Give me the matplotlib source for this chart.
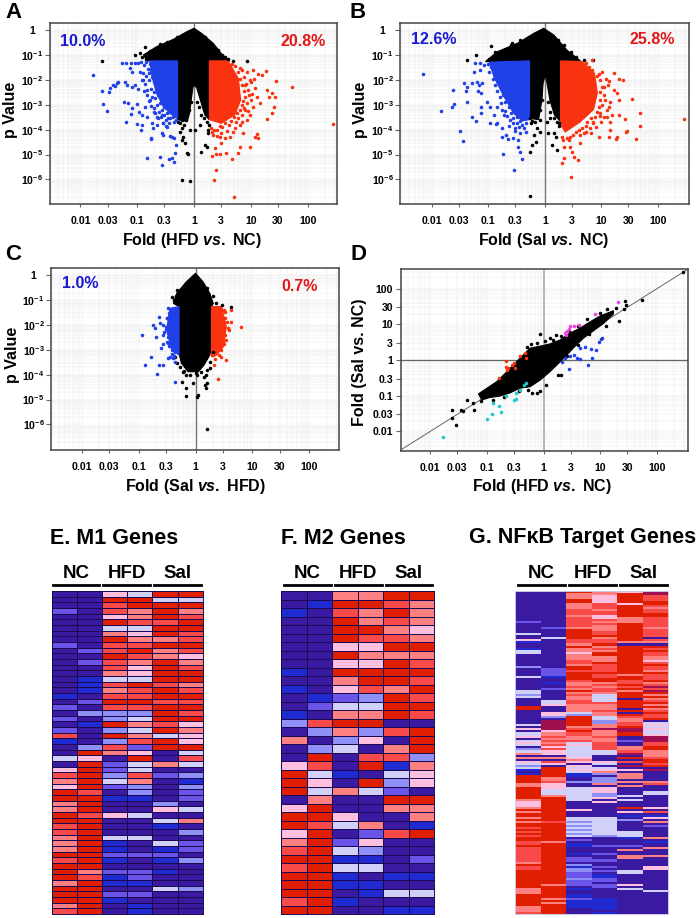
"""Volcano plots, fold-fold scatter and three expression heat maps."""
import numpy as np
import matplotlib
matplotlib.use("Agg")
import matplotlib.pyplot as plt
from matplotlib.colors import ListedColormap
from matplotlib.lines import Line2D
from matplotlib.ticker import FixedLocator, LogLocator, NullFormatter

plt.rcParams["font.family"] = "Liberation Sans"
plt.rcParams["font.weight"] = "bold"
plt.rcParams["mathtext.fontset"] = "custom"
plt.rcParams["mathtext.rm"] = "Liberation Sans:bold"
plt.rcParams["mathtext.bf"] = "Liberation Sans:bold"
plt.rcParams["mathtext.it"] = "Liberation Sans:italic:bold"
plt.rcParams["mathtext.default"] = "bf"

W, H = 700, 918

fold_ticks = [0.01, 0.03, 0.1, 0.3, 1, 3, 10, 30, 100]
fold_tick_labels = ["0.01", "0.03", "0.1", "0.3", "1", "3", "10", "30", "100"]
p_ticks = [1, 1e-1, 1e-2, 1e-3, 1e-4, 1e-5, 1e-6]
p_tick_labels = ["1", "10$^{-1}$", "10$^{-2}$", "10$^{-3}$", "10$^{-4}$", "10$^{-5}$", "10$^{-6}$"]

# everything below is log10(fold) / log10(p)
# dense cores are outlines of the solid areas, single dots listed on their own

# ---- panel A ----
a_core_black_x = [-.29, -.83, -.89, -.66, -.36, -.13, 0, .13, .34, .50, .63, .27, .27, .19, .11, .05, .01, -.02, -.05, -.08, -.12, -.29]
a_core_black_y = [-1.24, -1.24, -1.0, -.67, -.37, -.07, .07, -.13, -.54, -1.0, -1.24, -1.24, -3.61, -3.41, -2.81, -2.34, -2.21, -2.30, -2.81, -3.35, -3.68, -3.6]
a_core_blue_x = [-.29, -.78, -.74, -.66, -.54, -.40, -.29]
a_core_blue_y = [-1.24, -1.24, -1.87, -2.54, -3.08, -3.4, -3.5]
a_core_red_x = [.27, .60, .78, .82, .72, .48, .27]
a_core_red_y = [-1.24, -1.24, -1.95, -2.81, -3.4, -3.75, -3.6]
a_blue_x = [-1.77, -1.62, -1.60, -1.54, -1.48, -1.49, -1.42, -1.36, -1.33, -1.39, -1.24, -1.16, -1.20, -1.27, -1.20, -1.11, -1.04, -1.13, -1.10, -.98, -.95, -1.21, -1.18, -1.10, -1.04, -.98, -1.10, -1.11, -1.01, -.96, -.92, -1.01, -.92, -.94, -.76, -.76, -.82, -.60, -.56, -.44, -.38, -.36, -.33, -.32, -.57, -.54, -.42, -.38, -.35, -.86, -.83, -.74, -.72, -.66, -.54, -.48, -.45, -.89, -.83, -.77, -.70, -.65, -.57,
            -.93, -.88, -.85, -.81, -.78, -.90, -.84, -.79, -.75, -.92, -.86, -.80, -.74, -.70, -.88, -.82, -.76, -.71, -.66, -.79, -.74, -.68, -.63, -.75, -.70, -.65, -.60, -.56, -.68, -.62, -.57, -.52, -.63, -.58, -.53, -.47, -.42, -.55, -.49, -.43, -.37, -.32, -.50, -.44, -.36, -.31]
a_blue_y = [-1.81, -2.44, -2.99, -3.24, -2.34, -2.48, -2.21, -2.14, -2.07, -2.25, -2.88, -2.95, -3.68, -1.34, -1.34, -1.34, -1.34, -1.54, -1.67, -1.34, -1.67, -2.07, -2.21, -2.30, -2.21, -2.38, -3.15, -3.37, -2.97, -3.28, -3.41, -3.78, -3.82, -4.02, -4.32, -4.39, -5.15, -5.09, -5.42, -5.19, -5.13, -5.29, -4.95, -4.62, -4.15, -4.22, -4.26, -4.28, -4.32, -3.08, -3.48, -3.75, -3.95, -3.82, -3.75, -3.88, -3.55, -2.01, -2.41, -2.81, -3.28, -3.48, -3.41,
            -1.30, -1.42, -1.30, -1.55, -1.36, -1.72, -1.83, -1.72, -1.62, -2.0, -2.15, -2.02, -1.90, -2.10, -2.45, -2.60, -2.35, -2.48, -2.30, -2.85, -2.70, -2.75, -2.60, -3.05, -3.15, -3.0, -2.95, -2.85, -3.35, -3.30, -3.20, -3.10, -3.55, -3.48, -3.42, -3.35, -3.28, -3.72, -3.62, -3.55, -3.50, -3.45, -3.85, -3.72, -3.68, -3.62]
a_red_x = [2.45, 1.72, 1.44, 1.41, 1.43, 1.37, 1.28, 1.31, 1.29, 1.38, 1.26, 1.13, 1.19, 1.03, .93, .81, .99, 1.07, 1.10, 1.16, 1.04, .99, 1.13, 1.07, 1.10, .93, .87, .99, .80, .77, .66, .56, .46, .38, .32, .37, .47, .45, .63, .55, .69, .38, .35, .71, .31, 1.01, .96, .90, .90, .81, .72,
           .66, .72, .78, .84, .80, .88, .85, .92, .88, .95, .90, .86, .93, .84, .88, .80, .84, .76, .78, .70, .73, .65, .62, .55, .50, .45, .40, .35, .30, .58, .48, .40, .33, .85, .95, 1.02, 1.0, 1.05]
a_red_y = [-3.78, -2.29, -2.03, -3.08, -2.68, -2.54, -2.41, -2.68, -3.59, -3.35, -1.63, -1.77, -1.81, -1.61, -1.67, -1.54, -2.01, -2.34, -2.68, -2.95, -3.08, -3.41, -4.35, -4.28, -4.18, -3.61, -4.15, -4.71, -4.69, -4.95, -5.19, -4.95, -4.98, -4.98, -5.06, -4.75, -4.55, -4.31, -4.28, -4.35, -4.08, -5.62, -6.02, -6.69, -4.08, -2.81, -2.61, -2.21, -3.21, -3.82, -3.95,
           -1.35, -1.45, -1.7, -1.62, -1.95, -1.9, -2.2, -2.15, -2.45, -2.4, -2.7, -2.85, -2.95, -3.0, -3.15, -3.2, -3.4, -3.35, -3.55, -3.5, -3.7, -3.65, -3.82, -3.75, -3.9, -3.85, -4.0, -4.02, -3.95, -4.05, -4.15, -4.25, -4.2, -3.7, -3.25, -2.55, -2.1, -1.95]
a_black_x = [-1.62, .93, .69, -.87, -1.04, -.95, -.60, -.22, -.07, -.13, -.10, -.22, -.16, -.25, -.07, .13, .19, .22, .25, .25, .11, .02, -.22, -.19, .49,
             -.78, -.72, -.66, -.6, -.55, -.48, -.42, -.70, -.92, -.84, -.3, .2, .3, .42, .55, .6, -.28, -.25, -.18, -.22, .27, .22, .17, .12, .08, .05, -.05, -.09, -.14]
a_black_y = [-1.23, -1.24, -1.23, -.67, -1.0, -.94, -.56, -6.02, -6.05, -4.93, -4.98, -4.42, -4.52, -4.08, -4.02, -4.89, -4.62, -4.69, -4.15, -4.02, -3.82, -4.02, -3.95, -4.28, -1.0,
             -.85, -.9, -.75, -.7, -.65, -.5, -.55, -1.1, -1.1, -1.15, -.3, -.3, -.55, -.8, -1.1, -1.15, -3.7, -3.75, -3.8, -3.6, -3.8, -3.7, -3.55, -3.4, -3.1, -2.9, -2.9, -3.2, -3.6]

# ---- panel B ----
b_core_black_x = [-.27, -1.05, -.84, -.49, -.19, -.02, .16, .39, .63, .28, .28, .17, .09, .03, .01, -.03, -.05, -.08, -.11, -.27]
b_core_black_y = [-1.24, -1.27, -.87, -.54, -.13, .07, -.20, -.80, -1.24, -1.24, -3.68, -3.41, -2.81, -2.01, -1.81, -2.14, -2.8, -3.2, -3.6, -3.55]
b_core_blue_x = [-.27, -.98, -.90, -.72, -.55, -.40, -.27]
b_core_blue_y = [-1.24, -1.29, -1.88, -2.68, -3.35, -3.65, -3.6]
b_core_red_x = [.28, .66, .88, .93, .86, .62, .36, .28]
b_core_red_y = [-1.24, -1.27, -1.74, -2.54, -3.2, -3.7, -4.1, -3.8]
b_blue_x = [-2.15, -1.83, -1.64, -1.61, -1.62, -1.5, -1.44, -1.42, -1.38, -1.40, -1.38, -1.28, -1.21, -1.12, -1.12, -1.24, -1.25, -1.29, -1.19, -1.16, -1.11, -1.18, -1.12, -1.02, -.97, -.97, -.87, -.84, -.74, -.54, -.76, -.68, -.65, -.56, -.48, -.43, -.48, -.41, -.52, -.43, -.34, -.75, -.64, -.9, -.84, -1.15, -1.08, -1.15,
            -1.0, -.95, -.98, -.90, -.85, -.92, -.85, -.80, -.88, -.82, -.76, -.84, -.78, -.72, -.80, -.74, -.68, -.78, -.70, -.64, -.76, -.70, -.64, -.58, -.72, -.66, -.60, -.54, -.62, -.56, -.50, -.57, -.50, -.44, -.40, -.34, -.36, -.46, -.52]
b_blue_y = [-1.77, -3.24, -3.08, -2.99, -2.41, -4.06, -4.44, -2.14, -2.30, -2.43, -2.88, -3.48, -3.64, -3.35, -3.11, -1.31, -1.70, -2.12, -2.07, -2.21, -2.12, -2.46, -2.54, -2.88, -3.11, -3.75, -3.78, -3.72, -4.98, -5.62, -4.31, -4.22, -4.39, -4.35, -4.42, -4.89, -4.71, -5.19, -4.04, -4.15, -4.08, -3.95, -3.86, -3.41, -3.08, -1.34, -1.41, -1.61,
            -1.35, -1.5, -1.7, -1.65, -1.55, -1.95, -1.9, -1.8, -2.2, -2.12, -2.0, -2.45, -2.38, -2.25, -2.7, -2.6, -2.5, -2.95, -2.9, -2.78, -3.2, -3.25, -3.1, -3.0, -3.4, -3.45, -3.35, -3.25, -3.6, -3.55, -3.5, -3.75, -3.72, -3.65, -3.82, -3.72, -3.92, -3.9, -3.95]
b_red_x = [2.46, 1.68, 1.69, 1.62, 1.54, 1.46, 1.44, 1.41, 1.38, 1.31, 1.22, 1.13, 1.22, 1.28, 1.31, 1.19, 1.31, 1.16, 1.16, 1.28, 1.26, 1.13, .96, .84, .72, 1.01, 1.04, 1.07, 1.13, .98, 1.04, .86, .81, .63, .46, .58, .52, .48, .45, .34, .31, .34, .42, .69,
           .70, .78, .84, .92, .98, .95, 1.02, .98, 1.05, .97, 1.02, .95, .93, .98, .88, .82, .85, .75, .72, .65, .60, .55, .50, .45, .40, .33, .30, .62, .72, .80, .90, 1.0, 1.1, 1.1, 1.15, 1.12, 1.08]
b_red_y = [-3.56, -3.32, -3.86, -4.38, -2.76, -4.04, -4.11, -3.59, -2.01, -1.98, -1.74, -2.03, -2.41, -2.54, -2.81, -3.41, -3.41, -3.68, -4.02, -4.28, -4.39, -4.31, -4.31, -1.20, -1.34, -1.67, -2.28, -2.81, -3.08, -3.35, -3.48, -3.75, -4.15, -4.55, -5.89, -5.22, -5.09, -4.89, -4.69, -5.15, -5.35, -4.69, -4.42, -4.15,
           -1.40, -1.5, -1.62, -1.85, -2.0, -1.75, -2.3, -2.5, -2.6, -2.8, -3.0, -3.1, -3.3, -3.45, -3.5, -3.55, -3.7, -3.7, -3.85, -3.95, -4.0, -4.1, -4.2, -4.3, -4.35, -4.4, -4.3, -4.2, -4.1, -3.95, -3.9, -3.7, -3.5, -3.2, -2.9, -2.2, -1.95]
b_black_x = [-1.38, -1.21, -.95, -.88, -.58, -.27, .85, .69, -.27, -.22, -.16, -.25, -.14, -.08, -.19, .05, .16, .19, .13, .22, .10, .25, -.08, .04,
             -.98, -.90, -.80, -.74, -.66, -.60, -.52, -.44, .24, .34, .46, .56, -.26, -.22, -.18, .26, .22, .16, .10, .06, -.05, -.08, -.13]
b_black_y = [-1.20, -1.0, -.64, -.87, -.54, -6.67, -1.20, -1.20, -4.89, -4.62, -4.48, -3.75, -3.95, -4.08, -4.22, -4.15, -4.15, -4.28, -4.62, -4.82, -3.55, -3.75, -3.61, -3.68,
             -1.15, -1.05, -.95, -.85, -.80, -.62, -.60, -.40, -.4, -.6, -.9, -1.1, -3.55, -3.65, -3.7, -3.85, -3.7, -3.55, -3.3, -2.9, -2.8, -3.2, -3.5]

# ---- panel C ----
c_core_black_x = [0, .13, .25, .31, .28, .28, .25, .15, .05, -.13, -.25, -.29, -.29, -.39, -.33, -.16]
c_core_black_y = [.08, -.26, -.72, -1.13, -1.26, -2.87, -3.21, -3.61, -3.88, -3.88, -3.54, -3.14, -1.26, -1.13, -.72, -.26]
c_core_blue_x = [-.29, -.45, -.51, -.42, -.29]
c_core_blue_y = [-1.26, -1.33, -2.20, -3.01, -3.21]
c_core_red_x = [.28, .46, .54, .49, .37, .28]
c_core_red_y = [-1.26, -1.26, -2.07, -2.87, -3.21, -3.28]
c_blue_x = [-.94, -.70, -.88, -.78, -.64, -.58, -.67, -.36, -.48, -.64, -.74, -.71, -.63, -.57, -.52, -.57, -.57, -.6, -.48, -.39, -.48, -.36, -.42, -.36, -.51,
            -.47, -.50, -.46, -.52, -.55, -.48, -.50, -.46, -.42, -.38, -.45]
c_blue_y = [-2.40, -2.48, -3.61, -3.30, -3.61, -3.61, -3.97, -4.28, -1.33, -1.69, -2.0, -2.13, -1.93, -2.0, -2.09, -2.40, -2.77, -2.94, -2.74, -3.34, -3.34, -3.48, -3.01, -3.07, -1.73,
            -1.5, -1.7, -1.95, -2.15, -2.3, -2.5, -2.7, -2.85, -3.15, -3.25, -3.3]
c_red_x = [.80, .62, .62, .53, .44, .43, .32, .39, .30, .51, .57, .53, .49, .50, .52, .56, .58, .52, .5, .44, .38, .34, .42]
c_red_y = [-2.07, -1.87, -1.40, -3.41, -3.30, -2.94, -3.61, -4.19, -3.21, -1.46, -2.13, -2.60, -2.67, -1.4, -1.7, -1.9, -2.2, -2.4, -2.75, -3.0, -3.05, -3.35, -3.2]
c_black_x = [.20, .62, -.17, -.16, -.23, -.05, .05, .03, .19, .20, .16, .15, .18, .02, .25, -.16, -.22, -.33, -.42, .46,
             -.36, -.32, -.28, -.2, -.1, .0, .1, .2, .26, .3, -.38, -.34, -.24, .20, .3, .36]
c_black_y = [-6.17, -1.26, -4.86, -4.55, -4.28, -4.32, -4.82, -4.91, -4.55, -4.35, -4.42, -4.11, -4.01, -4.01, -3.74, -4.01, -3.88, -.59, -.86, -1.19,
             -3.3, -3.55, -3.7, -3.85, -4.0, -3.95, -3.9, -3.8, -3.5, -3.1, -1.0, -.85, -.55, -.5, -.85, -1.1]

# ---- panel D ----
d_core_x = [-1.15, -1.0, -.83, -.65, -.48, -.36, -.24, -.06, .11, .29, .46, .64, .82, .99, 1.23, 1.23, 1.06, .88, .70, .52, .41, .29, .11, -.06, -.24, -.42, -.59, -.77, -.95, -1.09]
d_core_y = [-.95, -.79, -.61, -.33, -.05, .14, .33, .39, .45, .56, .75, .89, 1.07, 1.23, 1.38, 1.29, 1.03, .82, .61, .33, .14, -.05, -.33, -.56, -.75, -.79, -.92, -1.01, -1.05, -1.12]
d_black_x = [2.46, 1.74, 1.44, 1.45, 1.41, 1.32, -.06, .22, .11, -1.61, -1.61, -1.54, -1.46, -1.42, -1.23, -1.36, -1.24, .26, .30, .05, -.12, -.06, -.27, -.21,
             -.30, -.22, -.12, .02, .16, .30, .44, .60, .76, 1.0, 1.12, 1.28, 1.1, .8, .6, .42, -.44, -.7, -.9, -1.1]
d_black_y = [2.47, 1.67, 1.66, 1.54, 1.42, 1.09, .73, .71, .61, -1.40, -1.62, -1.83, -1.40, -1.43, -1.40, -1.12, -1.21, -.42, -.42, -.70, -.92, -.86, -.84, -.93,
             .36, .45, .48, .52, .55, .66, .82, .95, 1.14, 1.33, 1.42, 1.45, .95, .72, .43, .10, -.88, -1.05, -1.12, -1.16]
d_magenta_x = [1.31, .91, .46, .54, .63, .41, .38, .44, .39]
d_magenta_y = [1.62, 1.29, .96, .96, .97, .82, .75, .86, .70]
d_red_x = [-.67, -.67, -.62, -.56, -.52, -.41, -.33, -.31, -.51, -.65, -.79]
d_red_y = [-.03, -.19, -.23, -.14, -.09, .11, .19, .05, -.23, -.28, -.50]
d_blue_x = [1.01, 1.02, .98, .73, .83, .92, .64, .85, .79, .45, .38, .46, .54, .58, .64, .32]
d_blue_y = [.58, .61, .51, .36, .31, .28, .33, .05, -.15, -.26, .07, .11, .14, .05, .02, -.05]
d_cyan_x = [-1.77, -1.0, -.91, -.76, -.78, -.89, -.66, -.52, -.48, -.48, -.42, -.35, -.31]
d_cyan_y = [-2.17, -1.65, -1.50, -1.46, -1.29, -1.21, -1.0, -1.12, -1.09, -.92, -.84, -.70, -.65]

# ---- heat maps, one digit per cell, 0 = dark indigo ... 8 = red, 9 = crimson ----
level_colors = ["#3a1aa0", "#1f2bd0", "#6a55e8", "#8f90f5", "#d0d0f8",
                "#ffc0e0", "#ff8080", "#f84a48", "#e01e00", "#a01050"]
e_rows = ["005488", "008844", "007888", "207686", "005687", "008778", "004488", "006587",
          "008667", "207788", "027867", "008765", "027686", "007587", "006588", "014488",
          "017876", "016787", "107788", "028877", "207788", "033387", "203488", "018675",
          "203486", "708645", "103785", "037288", "086504", "450807", "082464", "582400",
          "783723", "684601", "582303", "870302", "881102", "680030", "680054", "875400",
          "880046", "780010", "780003", "684400", "681042", "681012", "882220", "781013",
          "880000", "862210", "871200", "681100", "880043", "882200", "881000", "680100",
          "780100"]
f_rows = ["006688", "018876", "107686", "008676", "008865", "008776", "005588", "008666",
          "005587", "108888", "006887", "105768", "012387", "024488", "106687", "378800",
          "036378", "603508", "034068", "080773", "570816", "841045", "850835", "846420",
          "060088", "580066", "885006", "874601", "580278", "682500", "784300", "881102",
          "784400", "881011", "881100", "880144", "781000", "880011"]
g_nc1 = "0000000000 0000020000 0400510014 4000000300 0040000004 4340000880 0000004050 4450454034 6060543410 1888866888 8886555686 8868688787 8788778777 7777687788 8888888666 8888886667"
g_nc2 = "0000000000 0000000020 0004000000 0000000022 2210010020 0000445000 5530999995 6676767575 5060750888 8866755544 4688888888 8888788888 8888688888 8888888888 8888868888 8868688888"
g_hfd1 = "8666886667 7767777768 8888776866 5666776887 8888766768 6766776666 4388888678 7766745444 4456505454 1100300444 4444000050 0044343434 3402011000 1022031332 2232220100 1121111000"
g_hfd2 = "6655557776 7755767666 7786778676 8866687777 8778867677 6444476667 6644336696 6676677774 4000540456 3033360555 3350500000 0044444444 4300002000 2002002020 1122022000 0011111101"
g_sal1 = "5888885888 8886668888 8888860888 8888888888 8688778786 8880888808 0876677899 8800200667 9080709050 6660606000 0404000805 0103000004 4410002060 0660000044 0000050400 0000000000"
g_sal2 = "9977788767 7887777767 7770760878 7766578776 8777867979 8686786867 8778045454 4599977886 6678878090 0000670004 4000000507 0150602000 0060100600 0600005500 0000000040 0000000000"

BLACK, BLUE, RED, CYAN, MAGENTA = "#000000", "#2040e8", "#fa3210", "#20c8c8", "#f040e0"


def px_axes(left, top, right, bottom):
    return fig.add_axes([left / W, 1 - bottom / H, (right - left) / W, (bottom - top) / H])


def label(x, y, s, **kw):
    kw.setdefault("ha", "center")
    kw.setdefault("va", "center")
    fig.text(x / W, 1 - y / H, s, **kw)


def setup_axes(ax, xlim, ylim):
    ax.set_xscale("log")
    ax.set_yscale("log")
    ax.set_xlim(10 ** xlim[0], 10 ** xlim[1])
    ax.set_ylim(10 ** ylim[0], 10 ** ylim[1])
    ax.xaxis.set_major_locator(FixedLocator(fold_ticks))
    ax.set_xticklabels(fold_tick_labels)
    for axis in (ax.xaxis, ax.yaxis):
        axis.set_minor_locator(LogLocator(base=10, subs=range(2, 10), numticks=30))
        axis.set_minor_formatter(NullFormatter())
    ax.tick_params(which="minor", length=0)
    ax.tick_params(which="major", length=3.6, width=0.8, color="#666666", labelsize=7.6)
    ax.tick_params(axis="x", which="major", length=2.5, pad=6)
    ax.grid(True, which="both", color="#e8e8e8", linewidth=0.35)
    ax.set_axisbelow(True)
    for spine in ax.spines.values():
        spine.set_color("#444444")
        spine.set_linewidth(1.1)


def core(ax, xs, ys, color):
    ax.fill(10 ** np.array(xs), 10 ** np.array(ys), color=color, linewidth=0.8, zorder=3)


def dots(ax, xs, ys, color):
    ax.scatter(10 ** np.array(xs), 10 ** np.array(ys), s=6.5, color=color, linewidths=0, zorder=4)


def volcano(ax, xlim, ylim, black_core, blue_core, red_core, black, blue, red):
    setup_axes(ax, xlim, ylim)
    ax.yaxis.set_major_locator(FixedLocator(p_ticks))
    ax.set_yticklabels(p_tick_labels, ha="center")
    ax.tick_params(axis="y", which="major", pad=9)
    dots(ax, *black, BLACK)
    core(ax, *black_core, BLACK)
    dots(ax, *blue, BLUE)
    dots(ax, *red, RED)
    core(ax, *blue_core, BLUE)
    core(ax, *red_core, RED)
    ax.axvline(1, color="#777777", linewidth=1.0, zorder=2)


def heat(left, top, right, bottom, grid, lines=True):
    ax = px_axes(left, top, right, bottom)
    cmap = ListedColormap(level_colors)
    if lines:
        ax.pcolormesh(grid, cmap=cmap, vmin=-0.5, vmax=9.5, edgecolors="#1c0a50", linewidth=0.45)
    else:
        ax.pcolormesh(grid, cmap=cmap, vmin=-0.5, vmax=9.5)
    ax.invert_yaxis()
    ax.set_xticks([])
    ax.set_yticks([])
    for spine in ax.spines.values():
        spine.set_color("#1c0a50" if lines else "#cfc8e8")
        spine.set_linewidth(0.7)


def group_bars(y, spans, text_y):
    for (x0, x1), name in zip(spans, ["NC", "HFD", "Sal"]):
        fig.add_artist(Line2D([x0 / W, x1 / W], [1 - y / H, 1 - y / H], color="black", linewidth=2.0))
        label((x0 + x1) / 2, text_y, name, fontsize=13.5)


fig = plt.figure(figsize=(W / 100, H / 100), dpi=100, facecolor="white")

ax_a = px_axes(49.7, 23.3, 336.7, 204.3)
volcano(ax_a, (-2.54, 2.51), (-7.0, 0.27),
        (a_core_black_x, a_core_black_y), (a_core_blue_x, a_core_blue_y), (a_core_red_x, a_core_red_y),
        (a_black_x, a_black_y), (a_blue_x, a_blue_y), (a_red_x, a_red_y))

ax_b = px_axes(400, 23.3, 689, 204.3)
volcano(ax_b, (-2.56, 2.55), (-7.0, 0.27),
        (b_core_black_x, b_core_black_y), (b_core_blue_x, b_core_blue_y), (b_core_red_x, b_core_red_y),
        (b_black_x, b_black_y), (b_blue_x, b_blue_y), (b_red_x, b_red_y))

ax_c = px_axes(51, 268.3, 339, 450)
volcano(ax_c, (-2.54, 2.52), (-7.03, 0.28),
        (c_core_black_x, c_core_black_y), (c_core_blue_x, c_core_blue_y), (c_core_red_x, c_core_red_y),
        (c_black_x, c_black_y), (c_blue_x, c_blue_y), (c_red_x, c_red_y))

ax_d = px_axes(400.7, 269.3, 688.3, 450.7)
setup_axes(ax_d, (-2.52, 2.55), (-2.54, 2.54))
ax_d.yaxis.set_major_locator(FixedLocator(fold_ticks))
ax_d.set_yticklabels(fold_tick_labels)
ax_d.tick_params(axis="y", which="major", pad=2)
ax_d.plot([10 ** -2.6, 10 ** 2.6], [10 ** -2.6, 10 ** 2.6], color="#666666", linewidth=0.7, zorder=2)
core(ax_d, d_core_x, d_core_y, BLACK)
dots(ax_d, d_black_x, d_black_y, BLACK)
dots(ax_d, d_magenta_x, d_magenta_y, MAGENTA)
dots(ax_d, d_red_x, d_red_y, RED)
dots(ax_d, d_blue_x, d_blue_y, BLUE)
dots(ax_d, d_cyan_x, d_cyan_y, CYAN)
ax_d.axvline(1, color="#aaaaaa", linewidth=1.2, zorder=2)
ax_d.axhline(1, color="#666666", linewidth=0.9, zorder=2)

# ---- letters, labels, percentages ----
for x, y, s in [(13, 13, "A"), (358, 12, "B"), (13, 255, "C"), (358, 255, "D")]:
    label(x, y, s, fontsize=16)
for x, y, s in [(192, 241, "Fold (HFD $\\mathit{vs.}$ NC)"), (544, 241, "Fold (Sal $\\mathit{vs.}$ NC)"),
                (195, 487, "Fold (Sal $\\mathit{vs.}$ HFD)"), (542, 487, "Fold (HFD $\\mathit{vs.}$ NC)")]:
    label(x, y, s, fontsize=11.5)
for x, y, s in [(11, 110, "p Value"), (361, 110, "p Value"), (13, 355, "p Value"),
                (360, 362, "Fold (Sal vs. NC)")]:
    label(x, y, s, fontsize=11.5, rotation=90)
for x, y, s, c in [(83, 41, "10.0%", "#1a1ad0"), (303, 41, "20.8%", "#e01818"),
                   (434, 40, "12.6%", "#1a1ad0"), (652, 40, "25.8%", "#e01818"),
                   (80, 284, "1.0%", "#1a1ad0"), (300, 287, "0.7%", "#e01818")]:
    label(x, y, s, fontsize=11.5, color=c)

# ---- heat maps ----
e_grid = np.array([[int(c) for c in row] for row in e_rows])
f_grid = np.array([[int(c) for c in row] for row in f_rows])
g_grid = np.array([[int(c) for c in col.replace(" ", "")]
                   for col in [g_nc1, g_nc2, g_hfd1, g_hfd2, g_sal1, g_sal2]]).T
heat(51.7, 591, 202.7, 914, e_grid)
heat(281, 591, 434, 914, f_grid)
heat(515, 591, 668, 914, g_grid, lines=False)

label(114, 538, "E. M1 Genes", fontsize=15.5)
label(343, 538, "F. M2 Genes", fontsize=15.5)
label(583, 538, "G. NF\u03baB Target Genes", fontsize=15.5)
group_bars(585.3, [(52.7, 99.3), (103.3, 150), (154.3, 201)], 573)
group_bars(585.3, [(284, 330.7), (335, 381.7), (385.7, 432.3)], 573)
group_bars(585.3, [(518.3, 565), (569.3, 616), (620, 666.7)], 573)

fig.savefig("out.png", dpi=100, facecolor="white")
